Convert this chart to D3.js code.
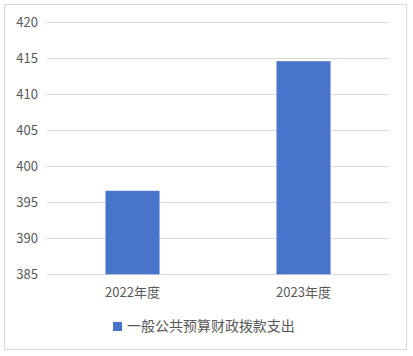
<!DOCTYPE html>
<html><head><meta charset="utf-8">
<script src="https://cdn.jsdelivr.net/npm/d3@7"></script>
<style>body{margin:0;background:#fff;}svg{display:block;}text{font-family:"Noto Sans CJK SC","Noto Sans",sans-serif;fill:#595959;}</style>
</head><body>
<svg id="c" width="413" height="356"></svg>
<script>
const categories = ["2022年度", "2023年度"];
const values = [396.6, 414.6];
const seriesName = "一般公共预算财政拨款支出";
const yTicks = [385, 390, 395, 400, 405, 410, 415, 420];

(function(){
const svg = d3.select("#c");
svg.append("rect").attr("x",4.5).attr("y",4.5).attr("width",402).attr("height",345)
  .attr("fill","#fff").attr("stroke","#d9d9d9").attr("stroke-width",1);

const pL = 47, pR = 389, pT = 22.3, pB = 274.3;
const y = d3.scaleLinear().domain([385, 420]).range([pB, pT]);
const x = d3.scaleBand().domain(categories).range([pL, pR]).padding(0);
const barW = x.bandwidth() * 0.316;

const g = svg.append("g");
g.selectAll("line.grid").data(yTicks).enter().append("line")
  .attr("x1", pL).attr("x2", pR)
  .attr("y1", d => Math.round(y(d)) + 0.5).attr("y2", d => Math.round(y(d)) + 0.5)
  .attr("stroke", "#d9d9d9").attr("stroke-width", 1);

g.selectAll("text.yt").data(yTicks).enter().append("text")
  .attr("x", 38).attr("y", d => y(d)).attr("dy", "0.35em")
  .attr("text-anchor", "end").style("font-size", "13px").text(d => d);

g.selectAll("rect.bar").data(values).enter().append("rect")
  .attr("x", (d, i) => x(categories[i]) + x.bandwidth()/2 - barW/2)
  .attr("width", barW)
  .attr("y", d => y(d)).attr("height", d => y(385) - y(d))
  .attr("fill", "#4874cb");

g.selectAll("text.cat").data(categories).enter().append("text")
  .attr("x", d => x(d) + x.bandwidth()/2).attr("y", 292.5).attr("dy", "0.35em")
  .attr("text-anchor", "middle").style("font-size", "13px").text(d => d);

const lg = svg.append("g");
lg.append("rect").attr("x", 113).attr("y", 322).attr("width", 9).attr("height", 9).attr("fill", "#4874cb");
const lt = lg.append("text").attr("x", 127).attr("y", 326.5).attr("dy", "0.35em")
  .style("font-size", "15px").text(seriesName);
const w = lt.node().getComputedTextLength();
if (w > 0) {
  const fs = Math.min(17, 15 * 168 / w);
  lt.style("font-size", fs + "px");
}
})();
</script>
</body></html>
